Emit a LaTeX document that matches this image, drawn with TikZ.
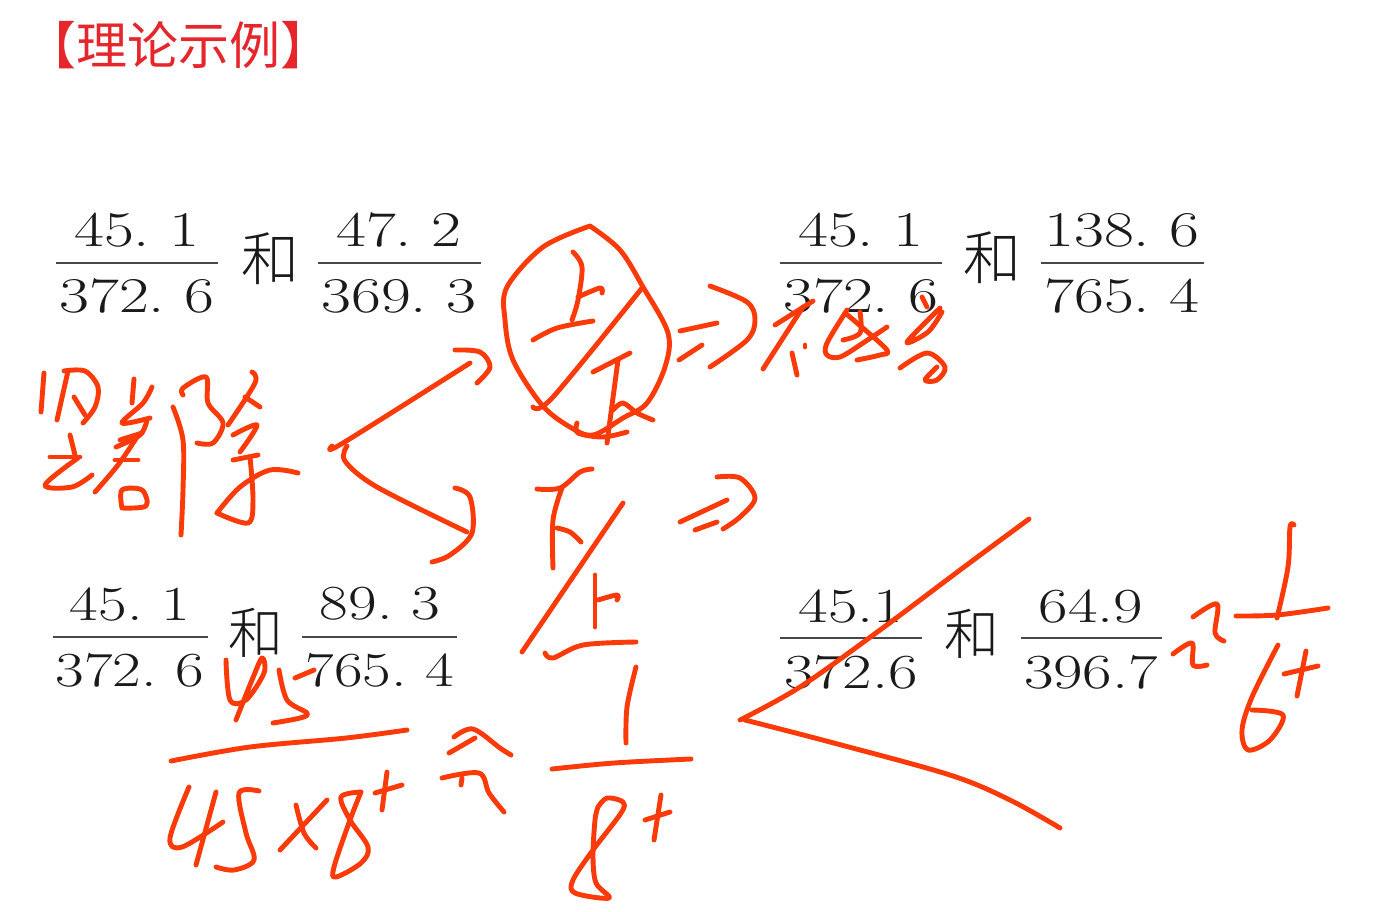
\documentclass[tikz,border=0pt]{standalone}
\usepackage{fontspec}
\newfontfamily\cjk{Noto Sans CJK SC}[UprightFont={* Light}]
\newfontfamily\cjktitle{Noto Sans CJK SC}
\definecolor{inkred}{HTML}{FA3A08}
\definecolor{titlered}{HTML}{E5262C}
\definecolor{numgray}{HTML}{1A1A1A}
\tikzset{
  inkline/.style={draw=inkred,line width=4.9pt,line cap=round,line join=round},
  num/.style={inner sep=0pt,xscale=1.3,text=numgray,font=\fontsize{50}{60}\selectfont\frenchspacing},
  numb/.style={inner sep=0pt,xscale=1.27,text=numgray,font=\fontsize{49}{60}\selectfont\frenchspacing},
  numc/.style={inner sep=0pt,xscale=1.31,text=numgray,font=\fontsize{49}{60}\selectfont},
  he/.style={inner sep=0pt,text=numgray,font=\cjk\fontsize{58}{64}\selectfont},
  heb/.style={inner sep=0pt,text=numgray,font=\cjk\fontsize{55}{64}\selectfont},
  fbar/.style={draw=numgray!80,line width=1.7pt}
}
\newcommand{\ink}[1]{\draw[inkline] plot[smooth,tension=.55] coordinates {#1};}
\begin{document}
\begin{tikzpicture}[x=1pt,y=-1pt]
\useasboundingbox (0,0) rectangle (1392,911);
\fill[white] (0,0) rectangle (1392,911);
% title
\node[inner sep=0pt,text=titlered,font=\cjktitle\fontsize{51}{56}\selectfont] (title) at (178,45) {【理论示例】};
% fractions
\node[num] (a1) at (137,230) {45. 1};
\node[num] (a2) at (137,296) {372. 6};
\draw[fbar] (56,263) -- (218,263);
\node[he] (h1) at (270,259) {和};
\node[num] (b1) at (399,230) {47. 2};
\node[num] (b2) at (399,296) {369. 3};
\draw[fbar] (318,263) -- (481,263);
\node[num] (c1) at (861,230) {45. 1};
\node[num] (c2) at (861,296) {372. 6};
\draw[fbar] (780,263) -- (942,263);
\node[he] (h2) at (992,258) {和};
\node[num] (d1) at (1122,230) {138. 6};
\node[num] (d2) at (1122,296) {765. 4};
\draw[fbar] (1041,263) -- (1204,263);
\node[numb] (e1) at (130,604) {45. 1};
\node[numb] (e2) at (130,670) {372. 6};
\draw[fbar] (53,637) -- (208,637);
\node[heb] (h3) at (256,633) {和};
\node[numb] (f1) at (380,604) {89. 3};
\node[numb] (f2) at (380,670) {765. 4};
\draw[fbar] (302,637) -- (457,637);
\node[numc] (g1) at (851,606) {45.1};
\node[numc] (g2) at (851,672) {372.6};
\draw[fbar] (780,638) -- (922,638);
\node[heb] (h4) at (972,634) {和};
\node[numc] (k1) at (1091,606) {64.9};
\node[numc] (k2) at (1091,672) {396.7};
\draw[fbar] (1021,638) -- (1162,638);
% handwriting left
\ink{(44,373)(41,412)}
\ink{(68,371)(57,420)}
\ink{(64,371)(85,371)(98,387)(95,407)(83,423)}
\ink{(74,397)(85,415)}
\ink{(70,435)(75,455)}
\ink{(50,457)(80,457)}
\ink{(78,458)(45,485)(72,487)(92,475)}
\ink{(134,379)(132,403)}
\ink{(152,387)(143,403)(122,423)(150,418)}
\ink{(147,420)(140,435)(116,447)}
\ink{(142,433)(120,440)}
\ink{(115,460)(138,460)}
\ink{(137,437)(118,465)(95,492)}
\ink{(122,508)(122,490)(142,490)(146,506)(122,508)}
\ink{(173,407)(183,440)(183,490)(181,535)}
\ink{(183,395)(183,388)(206,377)(208,403)(223,423)(213,443)(197,443)}
\ink{(252,372)(255,383)(228,425)}
\ink{(245,397)(260,407)}
\ink{(233,435)(257,425)(240,452)}
\ink{(233,460)(258,455)}
\ink{(217,513)(240,487)(270,470)(298,473)}
\ink{(217,513)(248,523)(253,500)(250,457)}
% bracket arrows
\ink{(332,446)(343,443)(470,363)}
\ink{(455,350)(480,352)(490,367)(477,383)}
\ink{(347,446)(345,461)(377,487)(467,532)}
\ink{(455,488)(470,497)(472,533)(450,555)(432,562)}
% circle with top/bottom
\ink{(590,226)(543,247)(507,287)(505,320)(513,360)(542,405)(570,427)(593,435)(623,418)(647,403)(665,367)(668,333)(643,287)(620,250)(590,226)}
\ink{(642,288)(553,397)(533,407)}
\ink{(573,252)(582,267)(578,300)(572,320)}
\ink{(578,297)(600,288)(602,293)}
\ink{(533,340)(557,328)(593,321)}
\ink{(593,372)(630,353)}
\ink{(618,360)(607,443)}
\ink{(613,410)(623,403)(637,413)(653,420)}
\ink{(577,423)(578,433)(603,437)(627,432)}
% implies
\ink{(680,331)(717,323)}
\ink{(679,360)(702,345)}
\ink{(710,286)(747,302)(755,320)(747,340)(710,367)}
% characters
\ink{(775,325)(813,301)}
\ink{(803,307)(763,369)}
\ink{(792,353)(797,375)}
\ink{(805,345)(805,347)}
\ink{(847,310)(827,343)(827,355)(840,357)(863,343)(887,327)}
\ink{(845,313)(857,323)(887,350)(880,355)(857,360)}
\ink{(860,312)(860,333)(843,340)}
\ink{(922,297)(927,307)}
\ink{(940,308)(907,342)(928,332)(942,312)}
\ink{(900,368)(927,353)(945,367)(937,380)(925,380)(937,367)}
% second set
\ink{(537,489)(560,488)(580,472)(592,469)}
\ink{(562,488)(553,520)(553,568)}
\ink{(557,528)(570,532)(581,542)}
\ink{(623,503)(522,652)}
\ink{(595,575)(595,627)}
\ink{(598,600)(617,595)(617,600)}
\ink{(545,653)(553,658)(583,645)(636,642)}
\ink{(680,522)(727,500)}
\ink{(695,530)(717,522)}
\ink{(717,477)(740,478)(755,498)(740,517)(723,529)}
% big angle
\ink{(740,720)(800,687)(880,630)(960,570)(1029,519)}
\ink{(745,720)(830,742)(950,775)(1010,800)(1060,828)}
% right 1/6+
\ink{(1294,525)(1290,527)(1288,567)(1277,618)}
\ink{(1236,616)(1277,615)(1328,608)}
\ink{(1278,645)(1252,697)(1242,730)(1248,750)(1270,740)(1283,715)(1252,710)}
\ink{(1284,674)(1318,666)}
\ink{(1306,651)(1297,696)}
\ink{(1193,617)(1217,604)(1215,633)(1224,641)}
\ink{(1173,654)(1192,643)(1193,665)(1207,665)}
% 45 / 45x8+
\ink{(226,660)(230,700)(246,700)(264,673)(262,658)(252,680)(236,720)}
\ink{(279,670)(287,700)(307,713)(300,718)(273,723)}
\ink{(295,678)(314,670)}
\ink{(171,761)(250,747)(346,738)(407,730)}
\ink{(189,787)(170,838)(182,847)(223,822)}
\ink{(216,792)(196,865)}
\ink{(259,791)(239,793)(246,833)(254,860)(234,870)(216,867)}
\ink{(280,850)(327,800)}
\ink{(296,805)(304,833)(316,848)}
\ink{(361,792)(341,797)(350,820)(368,847)(361,863)(336,877)(334,867)(350,820)(361,792)}
\ink{(375,793)(402,785)}
\ink{(387,772)(382,810)}
% approx
\ink{(454,737)(473,729)(500,748)(511,755)}
\ink{(449,753)(475,738)}
\ink{(442,778)(479,773)(489,793)(504,812)}
\ink{(461,785)(462,778)}
% 1/8+
\ink{(636,667)(627,707)(626,743)}
\ink{(552,769)(614,763)(691,759)}
\ink{(598,807)(607,798)(623,802)(621,813)(593,850)(573,880)(575,893)(609,898)(596,883)(593,857)(595,820)(598,807)}
\ink{(645,820)(670,812)}
\ink{(661,795)(654,840)}
\end{tikzpicture}
\end{document}
